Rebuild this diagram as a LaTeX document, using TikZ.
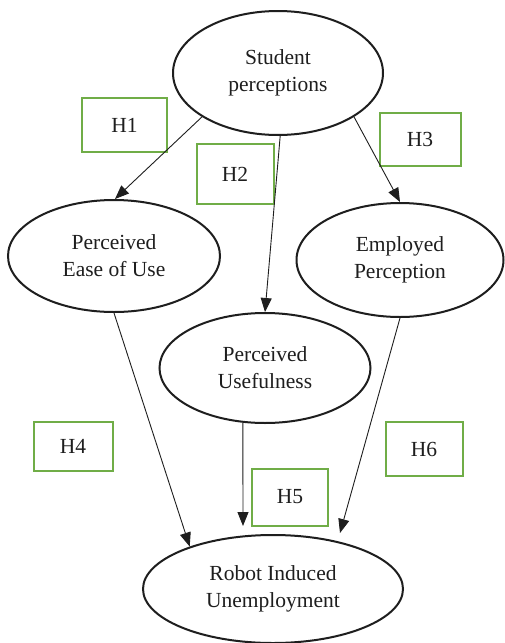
\documentclass[tikz,border=0pt]{standalone}
\usepackage{fontspec}
\setmainfont{Liberation Serif}
\usetikzlibrary{shapes.geometric,arrows.meta}
\definecolor{hgreen}{RGB}{112,173,71}
\definecolor{ink}{RGB}{30,30,30}
\begin{document}
\begin{tikzpicture}[x=1pt,y=-1pt,
  latent/.style={ellipse, draw=ink, line width=2pt, inner sep=0pt, align=center, text=ink,
    font=\fontsize{21.5}{27}\selectfont},
  hyp/.style={draw=hgreen, line width=2pt, inner sep=0pt, text=ink,
    font=\fontsize{21.5}{27}\selectfont},
  arr/.style={draw=ink, line width=0.9pt, -{Triangle[length=14pt,width=11pt]}}]
\useasboundingbox (0,0) rectangle (504,643);
\fill[white] (0,0) rectangle (504,643);
% latent constructs
\node[latent, minimum width=210pt, minimum height=124pt] (sp) at (278,73) {Student\\perceptions};
\node[latent, minimum width=212pt, minimum height=112pt] (peou) at (114,256) {Perceived\\Ease of Use};
\node[latent, minimum width=207pt, minimum height=114pt] (ep) at (400,260) {Employed\\Perception};
\node[latent, minimum width=211pt, minimum height=110pt] (pu) at (265,368) {Perceived\\Usefulness};
\node[latent, minimum width=260pt, minimum height=108pt] (riu) at (273,589) {Robot Induced\\Unemployment};
% hypothesis labels
\node[hyp, minimum width=85pt, minimum height=54pt] (h1) at (124.5,125) {H1};
\node[hyp, minimum width=77pt, minimum height=60pt] (h2) at (235,174) {H2};
\node[hyp, minimum width=81pt, minimum height=53pt] (h3) at (420,139) {H3};
\node[hyp, minimum width=79pt, minimum height=49pt] (h4) at (73,446) {H4};
\node[hyp, minimum width=76pt, minimum height=57pt] (h5) at (290,497) {H5};
\node[hyp, minimum width=77pt, minimum height=54pt] (h6) at (424,449) {H6};
% free ends
\coordinate (e5) at (243,526);
\coordinate (e6) at (340,533);
% paths
\draw[arr] (sp.210) -- (peou.89);
\draw[arr] (sp.272) -- (pu.north);
\draw[arr] (sp.330) -- (ep.north);
\draw[arr] (peou.south) -- (riu.153);
\draw[arr] (pu.248) -- (e5);
\draw[arr] (ep.south) -- (e6);
\end{tikzpicture}
\end{document}
